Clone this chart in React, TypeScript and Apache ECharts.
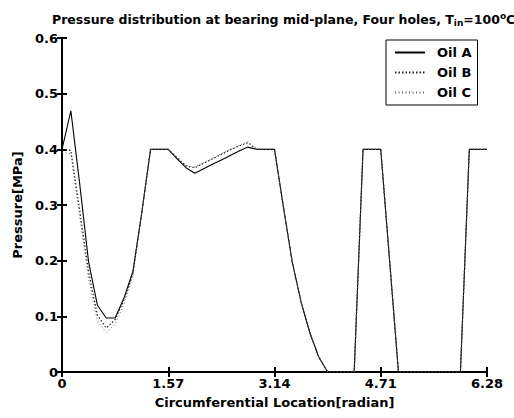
import React, { useEffect, useRef } from "react";
import * as echarts from "echarts";

// Circumferential grid: 49 nodes, step = 2π/48 radians
const angleStep = Math.PI / 24;
const xTickLabels = ["0", "1.57", "3.14", "4.71", "6.28"];
const yTickLabels = ["0", "0.1", "0.2", "0.3", "0.4", "0.5", "0.6"];

const oilA = [
  0.40, 0.469, 0.338, 0.198, 0.12, 0.097, 0.097, 0.133, 0.18, 0.285, 0.40,
  0.40, 0.40, 0.383, 0.367, 0.357, 0.365, 0.373, 0.381, 0.389, 0.397, 0.404,
  0.40, 0.40, 0.40, 0.297, 0.198, 0.126, 0.07, 0.027, 0, 0, 0, 0,
  0.40, 0.40, 0.40, 0.20, 0, 0, 0, 0, 0, 0, 0, 0, 0.40, 0.40, 0.40,
];
const oilB = [
  0.40, 0.398, 0.29, 0.18, 0.102, 0.079, 0.094, 0.13, 0.176, 0.285, 0.40,
  0.40, 0.40, 0.385, 0.37, 0.367, 0.375, 0.383, 0.391, 0.399, 0.406, 0.412,
  0.40, 0.40, 0.40, 0.297, 0.198, 0.126, 0.07, 0.027, 0, 0, 0, 0,
  0.40, 0.40, 0.40, 0.20, 0, 0, 0, 0, 0, 0, 0, 0, 0.40, 0.40, 0.40,
];
const oilC = [
  0.395, 0.392, 0.278, 0.168, 0.092, 0.071, 0.086, 0.122, 0.172, 0.285, 0.40,
  0.40, 0.40, 0.386, 0.371, 0.368, 0.376, 0.384, 0.392, 0.4, 0.407, 0.414,
  0.40, 0.40, 0.40, 0.297, 0.198, 0.126, 0.07, 0.027, 0, 0, 0, 0,
  0.40, 0.40, 0.40, 0.20, 0, 0, 0, 0, 0, 0, 0, 0, 0.40, 0.40, 0.40,
];

const font = "'DejaVu Sans', Arial, Helvetica, sans-serif";

function toPairs(vals: number[]) {
  return vals.map((v, i) => [i * angleStep, v]);
}

export default function App() {
  const ref = useRef<HTMLDivElement>(null);
  useEffect(() => {
    document.body.style.margin = "0";
    if (!ref.current) return;
    const chart = echarts.init(ref.current, undefined, { renderer: "svg" });
    const axisLine = { show: true, lineStyle: { color: "#000", width: 2 } };
    const tickIn = { show: true, inside: true, length: 5, lineStyle: { color: "#000", width: 2 } };
    const labelStyle = { color: "#000", fontFamily: font, fontWeight: "bold" as const, fontSize: 13 };
    chart.setOption({
      animation: false,
      backgroundColor: "#fff",
      title: {
        text: "Pressure distribution at bearing mid-plane, Four holes, T{sub|in}=100{sup|o}C",
        left: 47,
        top: 6,
        textStyle: {
          color: "#000",
          fontFamily: font,
          fontWeight: "bold",
          fontSize: 12.5,
          rich: {
            sub: { fontSize: 9, fontWeight: "bold", fontFamily: font, color: "#000", verticalAlign: "bottom", padding: [7, 0, 0, 0] },
            sup: { fontSize: 9, fontWeight: "bold", fontFamily: font, color: "#000", verticalAlign: "top", padding: [0, 0, 6, 0] },
          },
        },
      },
      grid: { left: 62, right: 27, top: 38, bottom: 46 },
      legend: {
        orient: "vertical",
        left: 386,
        top: 40,
        padding: [6, 6, 6, 8],
        itemWidth: 30,
        itemHeight: 10,
        itemGap: 7,
        borderColor: "#000",
        borderWidth: 1,
        backgroundColor: "#fff",
        itemStyle: { opacity: 0 },
        textStyle: { ...labelStyle, fontSize: 13, padding: [0, 0, 0, 7] },
        data: ["Oil A", "Oil B", "Oil C"],
      },
      xAxis: [
        {
          type: "value",
          min: 0,
          max: 2 * Math.PI,
          interval: Math.PI / 2,
          name: "Circumferential Location[radian]",
          nameLocation: "middle",
          nameGap: 24,
          nameTextStyle: { ...labelStyle, fontSize: 13 },
          axisLine,
          axisTick: tickIn,
          splitLine: { show: false },
          axisLabel: {
            ...labelStyle,
            margin: 5,
            formatter: (v: number) => xTickLabels[Math.round(v / (Math.PI / 2))] ?? "",
          },
        },
        {
          type: "value",
          position: "top",
          min: 0,
          max: 2 * Math.PI,
          interval: Math.PI / 2,
          axisLine,
          axisTick: tickIn,
          splitLine: { show: false },
          axisLabel: { show: false },
        },
      ],
      yAxis: [
        {
          type: "value",
          min: 0,
          max: 0.6,
          interval: 0.1,
          name: "Pressure[MPa]",
          nameLocation: "middle",
          nameGap: 35,
          nameTextStyle: { ...labelStyle, fontSize: 13 },
          axisLine,
          axisTick: tickIn,
          splitLine: { show: false },
          axisLabel: {
            ...labelStyle,
            margin: 4,
            formatter: (v: number) => yTickLabels[Math.round(v * 10)] ?? "",
          },
        },
        {
          type: "value",
          position: "right",
          min: 0,
          max: 0.6,
          interval: 0.1,
          axisLine,
          axisTick: tickIn,
          splitLine: { show: false },
          axisLabel: { show: false },
        },
      ],
      series: [
        {
          name: "Oil A",
          type: "line",
          data: toPairs(oilA),
          symbol: "none",
          lineStyle: { color: "#000", width: 1.1, type: "solid" },
          itemStyle: { color: "#000" },
        },
        {
          name: "Oil B",
          type: "line",
          data: toPairs(oilB),
          symbol: "none",
          lineStyle: { color: "#222", width: 1.2, type: [1.5, 2] },
          itemStyle: { color: "#222" },
        },
        {
          name: "Oil C",
          type: "line",
          data: toPairs(oilC),
          symbol: "none",
          lineStyle: { color: "#666", width: 1, type: [1, 2.5] },
          itemStyle: { color: "#666" },
        },
      ],
    });
    return () => chart.dispose();
  }, []);
  return <div ref={ref} style={{ width: 514, height: 418 }} />;
}
